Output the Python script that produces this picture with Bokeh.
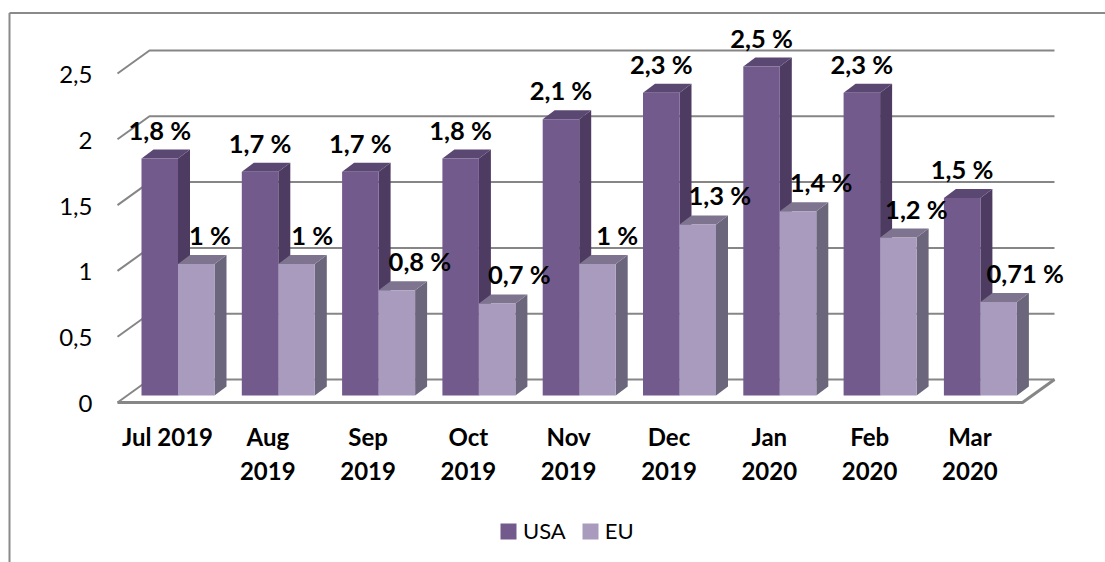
from bokeh.embed import file_html
from bokeh.resources import INLINE
from bokeh.plotting import figure
from bokeh.models import (ColumnDataSource, Range1d, LinearAxis, FixedTicker,
                          Legend, LegendItem)
from bokeh.core.properties import value

months = ["Jul 2019", "Aug\n2019", "Sep\n2019", "Oct\n2019", "Nov\n2019",
          "Dec\n2019", "Jan\n2020", "Feb\n2020", "Mar\n2020"]
usa = [1.8, 1.7, 1.7, 1.8, 2.1, 2.3, 2.5, 2.3, 1.5]
eu = [1.0, 1.0, 0.8, 0.7, 1.0, 1.3, 1.4, 1.2, 0.71]
usa_labels = ["1,8 %", "1,7 %", "1,7 %", "1,8 %", "2,1 %", "2,3 %", "2,5 %", "2,3 %", "1,5 %"]
eu_labels = ["1 %", "1 %", "0,8 %", "0,7 %", "1 %", "1,3 %", "1,4 %", "1,2 %", "0,71 %"]
y_ticks = [0, 0.5, 1, 1.5, 2, 2.5]
y_tick_labels = ["0", "0,5", "1", "1,5", "2", "2,5"]
eu_label_nudge = [11, 13, 10, 9, 17, 9, 10, 5, 6]

W, H = 1105, 562
PX_X, PX_Y = 100.3, 131.6          # pixels per category / per unit
X0, Y0 = 177.5, 395.0              # pixel position of category 0, value 0 inside the figure
FONT = "Lato"
GRID = "#868686"

p = figure(width=W, height=H, output_backend="svg", toolbar_location=None,
           min_border=0, outline_line_color=None, background_fill_color="white",
           x_axis_type=None, y_axis_type=None,
           x_range=Range1d(-X0 / PX_X, (W - X0) / PX_X),
           y_range=Range1d((Y0 - H) / PX_Y, Y0 / PX_Y))
p.grid.visible = False
p.extra_y_ranges["front"] = Range1d((Y0 - H + 8) / PX_Y, (Y0 + 8) / PX_Y)
p.extra_x_ranges["labels"] = Range1d(-(X0 - 10.5) / PX_X, (W - X0 + 10.5) / PX_X)

def px(n): return n / PX_X
def py(n): return n / PX_Y

half = px(36.5)
dx, dy = px(12), py(9)
n = range(len(months))

# chart frame: top and left edges
fx, fy = (9 - X0) / PX_X, (Y0 - 12.5) / PX_Y
p.line([fx, fx], [(Y0 - H) / PX_Y, fy], line_color="#8a8a8a", line_width=2)
p.line([fx, (W - X0) / PX_X], [fy, fy], line_color="#8a8a8a", line_width=2)

# 3D walls: gridlines run from the front-left edge to the back, then across
bl, fl = px(149 - X0), px(117 - X0)
br = px(1054 - X0)
back_up, front_dn = py(16), py(7)
xs, ys = [], []
for t in y_ticks:
    xs.append([fl, bl, br]); ys.append([t - front_dn, t + back_up, t + back_up])
p.multi_line(xs, ys, line_color=GRID, line_width=2)
p.line([fl, br - px(32), br], [-front_dn, -front_dn, back_up], line_color=GRID, line_width=3)

def bar_series(vals, left, front, side, top):
    src = dict(l=[i + left for i in n], r=[i + left + half for i in n], v=vals)
    p.patches([[i + left + half, i + left + half + dx, i + left + half + dx, i + left + half] for i in n],
              [[0, dy, vals[i] + dy, vals[i]] for i in n],
              fill_color=side, line_color=None)
    p.patches([[i + left, i + left + dx, i + left + half + dx, i + left + half] for i in n],
              [[vals[i], vals[i] + dy, vals[i] + dy, vals[i]] for i in n],
              fill_color=top, line_color=None)
    return p.quad(left="l", right="r", bottom=0, top="v", source=ColumnDataSource(src),
                  fill_color=front, line_color=None)

r_usa = bar_series(usa, -half, "#725A8C", "#4D3B62", "#5B4872")
r_eu = bar_series(eu, 0, "#A89BBD", "#6C667C", "#7E748F")

p.text([i - half / 2 for i in n], usa, text=usa_labels, text_font=value(FONT), text_font_style="bold",
       text_font_size="25.5px", text_align="center", text_baseline="middle", y_offset=-29, text_color="black")
p.text(x=[float(i) for i in n], y=eu, text=eu_labels, x_offset=eu_label_nudge, text_font=value(FONT),
       text_font_style="bold", text_font_size="25.5px", text_align="left", text_baseline="middle",
       y_offset=-29, text_color="black")

# value axis, set on the front edge of the wall
yax = LinearAxis(y_range_name="front", fixed_location=(98 - X0) / PX_X,
                 ticker=FixedTicker(ticks=y_ticks),
                 major_label_overrides={t: s for t, s in zip(y_ticks, y_tick_labels)},
                 major_label_text_font=FONT, major_label_text_font_size="24px",
                 major_label_text_color="black", major_label_standoff=0,
                 axis_line_color=None, major_tick_line_color=None, minor_tick_line_color=None)
p.add_layout(yax, "left")

# category axis
xax = LinearAxis(x_range_name="labels", fixed_location=-py(20),
                 ticker=FixedTicker(ticks=list(n)),
                 major_label_overrides={i: m for i, m in zip(n, months)},
                 major_label_text_font=FONT, major_label_text_font_style="bold",
                 major_label_text_font_size="24px", major_label_text_color="black",
                 major_label_standoff=0, axis_line_color=None,
                 major_tick_line_color=None, minor_tick_line_color=None)
p.add_layout(xax, "below")

legend = Legend(items=[LegendItem(label="USA", renderers=[r_usa]), LegendItem(label="EU", renderers=[r_eu])],
                orientation="horizontal", location=(498, 18), border_line_color=None,
                background_fill_alpha=0, label_text_font=FONT, label_text_font_size="22px",
                label_text_color="black", glyph_width=20, glyph_height=20, spacing=14,
                label_standoff=5, margin=0, padding=0)
p.add_layout(legend, "center")

open("out.html", "w").write(file_html(p, INLINE))
